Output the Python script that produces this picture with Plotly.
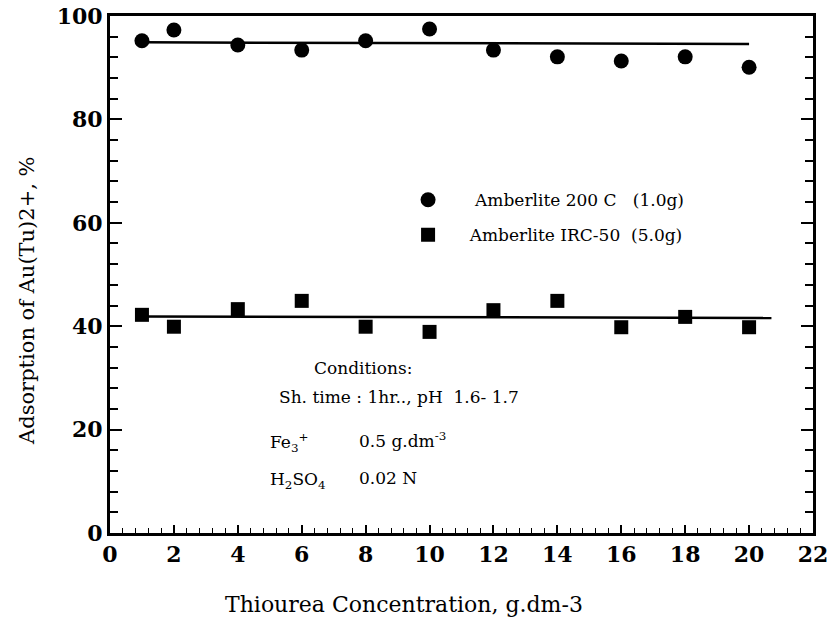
import plotly.graph_objects as go

# Data
x_vals = [1, 2, 4, 6, 8, 10, 12, 14, 16, 18, 20]
amb200c = [95.2, 97.3, 94.4, 93.4, 95.2, 97.5, 93.4, 92.1, 91.3, 92.1, 90.1]
irc50 = [42.2, 39.9, 43.3, 44.9, 39.9, 38.9, 43.1, 44.9, 39.8, 41.8, 39.8]

fit200_x = [1, 20]
fit200_y = [94.9, 94.6]
fitirc_x = [0.9, 20.7]
fitirc_y = [41.9, 41.6]

nb = "\u00a0"
name200 = nb * 5 + "Amberlite 200 C" + nb * 3 + "(1.0g)"
nameirc = nb * 4 + "Amberlite IRC-50" + nb * 2 + "(5.0g)"
x_title = "Thiourea Concentration, g.dm-3"
y_title = "Adsorption of Au(Tu)2+, %"

serif = "DejaVu Serif"

fig = go.Figure()
fig.add_trace(go.Scatter(x=fit200_x, y=fit200_y, mode="lines",
                         line=dict(color="black", width=2.5), showlegend=False, hoverinfo="skip"))
fig.add_trace(go.Scatter(x=fitirc_x, y=fitirc_y, mode="lines",
                         line=dict(color="black", width=2.5), showlegend=False, hoverinfo="skip"))
fig.add_trace(go.Scatter(x=x_vals, y=amb200c, mode="markers", name=name200,
                         legendgroup="a",
                         marker=dict(symbol="circle", size=15, color="black")))
fig.add_trace(go.Scatter(x=x_vals, y=irc50, mode="markers", name=nameirc,
                         legendgroup="b",
                         marker=dict(symbol="square", size=14, color="black")))

fig.update_layout(
    width=835, height=629,
    margin=dict(l=110, r=22, t=16, b=96),
    paper_bgcolor="white", plot_bgcolor="white",
    font=dict(family=serif, color="black", size=17),
    legend=dict(x=0.424, y=0.61, xanchor="left", yanchor="middle",
                bgcolor="rgba(0,0,0,0)", tracegroupgap=10,
                font=dict(family=serif, size=17, color="black")),
    xaxis=dict(range=[0, 22], dtick=2, tick0=0, showgrid=False, zeroline=False,
               automargin=False, ticklabeloverflow="allow",
               showline=True, linecolor="black", linewidth=3, mirror=True,
               ticks="inside", ticklen=8, tickwidth=1.5, tickcolor="black",
               minor=dict(dtick=0.4, ticks="inside", ticklen=5, tickwidth=1, tickcolor="black"),
               tickfont=dict(family=serif, size=22, color="black", weight="bold")),
    yaxis=dict(range=[0, 100], dtick=20, tick0=0, showgrid=False, zeroline=False,
               automargin=False, ticklabeloverflow="allow",
               showline=True, linecolor="black", linewidth=3, mirror="ticks",
               ticks="inside", ticklen=12, tickwidth=2, tickcolor="black",
               minor=dict(dtick=4, ticks="inside", ticklen=8, tickwidth=1.5, tickcolor="black"),
               tickfont=dict(family=serif, size=22, color="black", weight="bold")),
)

# axis titles (offset from the plot centre as in the reference)
fig.add_annotation(text=x_title, x=0.418, y=-0.139, xref="paper", yref="paper",
                   xanchor="center", yanchor="middle", showarrow=False,
                   font=dict(family=serif, size=22, color="black"))
fig.add_annotation(text=y_title, x=-0.118, y=0.449, xref="paper", yref="paper",
                   xanchor="center", yanchor="middle", showarrow=False, textangle=-90,
                   font=dict(family=serif, size=21, color="black"))

annots = [
    ("Conditions:", 0.36, 0.319, "center"),
    ("Sh. time : 1hr.., pH" + nb * 2 + "1.6- 1.7", 0.2375, 0.263, "left"),
    ("Fe<sub>3</sub><sup>+</sup>", 0.225, 0.176, "left"),
    ("0.5 g.dm<sup>-3</sup>", 0.351, 0.18, "left"),
    ("H<sub>2</sub>SO<sub>4</sub>", 0.225, 0.1025, "left"),
    ("0.02 N", 0.351, 0.106, "left"),
]
for text, x, y, anchor in annots:
    fig.add_annotation(text=text, x=x, y=y, xref="paper", yref="paper",
                       xanchor=anchor, yanchor="middle", showarrow=False,
                       font=dict(family=serif, size=17, color="black"))

fig.write_html("out.html", config={"displayModeBar": False},
               post_script="document.body.style.margin='0';")
